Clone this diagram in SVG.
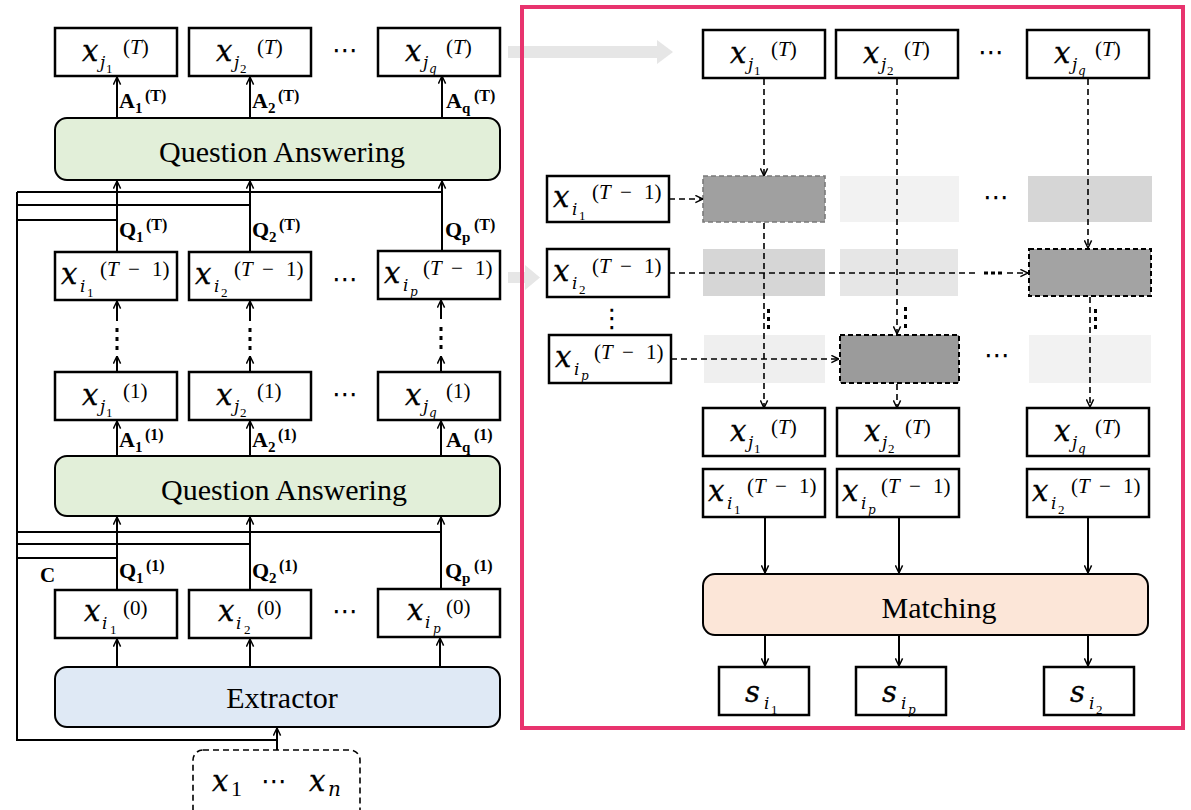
<svg xmlns="http://www.w3.org/2000/svg" width="1191" height="810" viewBox="0 0 1191 810">
  <defs>
    <style>
      .box { fill: #fff; stroke: #000; stroke-width: 2.5; }
      .ln { fill: none; stroke: #000; stroke-width: 2; }
      .dl { fill: none; stroke: #000; stroke-width: 1.6; stroke-dasharray: 6 4; }
      .m { font-family: "Liberation Serif", "DejaVu Serif", serif; fill: #000; }
      .it { font-style: italic; }
      .mx { font-family: "DejaVu Serif", "Liberation Serif", serif; font-style: italic; }
      .mb { stroke: #000; stroke-width: 0.3; }
      .b { font-family: "Liberation Serif", "DejaVu Serif", serif; font-weight: bold; fill: #000; }
      .big { font-family: "Liberation Serif", "DejaVu Serif", serif; font-size: 30px; fill: #000; text-anchor: middle; }
      .dots { font-family: "DejaVu Sans", sans-serif; font-size: 26px; fill: #000; text-anchor: middle; }
      .dot { fill: #000; }
    </style>
    <marker id="arr" viewBox="0 0 10 10" refX="9.5" refY="5" markerWidth="9" markerHeight="9" markerUnits="userSpaceOnUse" orient="auto">
      <path d="M1,1 L9.5,5 L1,9" fill="none" stroke="#000" stroke-width="1.6"/>
    </marker>
  </defs>

  <rect width="1191" height="810" fill="#fff"/>

  <!-- hand-off arrows from the left stack into the matching panel -->
  <g id="handoff" fill="#e6e6e6">
    <path d="M508,46 H657 V40 L673,52 L657,64 V58 H508 Z"/>
    <path d="M508,272 H525 V265 L540,277.5 L525,290 V283 H508 Z"/>
  </g>

  <!-- matching panel frame -->
  <rect id="panel" x="522" y="7" width="661" height="721" fill="none" stroke="#e8336e" stroke-width="4"/>

  <!-- attention grid cells -->
  <g id="grid">
    <rect x="703" y="176" width="122" height="46" fill="#a0a0a0" stroke="#7a7a7a" stroke-width="1.6" stroke-dasharray="5 3"/>
    <rect x="840" y="176" width="119" height="46" fill="#f2f2f2"/>
    <rect x="1028" y="176" width="124" height="46" fill="#d6d6d6"/>
    <rect x="703" y="249" width="122" height="47" fill="#d6d6d6"/>
    <rect x="840" y="249" width="118" height="47" fill="#e6e6e6"/>
    <rect x="1029" y="249" width="122" height="47" fill="#a3a3a3" stroke="#000" stroke-width="2" stroke-dasharray="5 3"/>
    <rect x="704" y="335" width="121" height="48" fill="#efefef"/>
    <rect x="840" y="335" width="119" height="48" fill="#9b9b9b" stroke="#000" stroke-width="2" stroke-dasharray="5 3"/>
    <rect x="1029" y="335" width="122" height="48" fill="#f2f2f2"/>
  </g>

  <!-- connectors -->
  <g id="connectors">
    <!-- context bus feeding the question streams -->
    <path class="ln" d="M17,192 V740 H277"/>
    <path class="ln" d="M17,192 H442 M17,205 H250 M17,220 H117"/>
    <path class="ln" d="M17,532 H441 M17,544 H250 M17,558 H117"/>
    <line class="ln" x1="277" y1="750" x2="277" y2="728" marker-end="url(#arr)"/>

    <!-- answers of round T -->
    <line class="ln" x1="117" y1="118" x2="117" y2="77" marker-end="url(#arr)"/>
    <line class="ln" x1="250" y1="118" x2="250" y2="77" marker-end="url(#arr)"/>
    <line class="ln" x1="442" y1="118" x2="442" y2="76" marker-end="url(#arr)"/>
    <!-- questions of round T -->
    <line class="ln" x1="117" y1="252" x2="117" y2="181" marker-end="url(#arr)"/>
    <line class="ln" x1="250" y1="252" x2="250" y2="181" marker-end="url(#arr)"/>
    <line class="ln" x1="442" y1="251" x2="442" y2="181" marker-end="url(#arr)"/>
    <!-- rounds in between -->
    <g>
      <line class="ln" x1="117" y1="372" x2="117" y2="356" marker-end="url(#arr)"/>
      <line class="ln" x1="117" y1="321" x2="117" y2="301" marker-end="url(#arr)"/>
      <rect class="dot" x="115.5" y="328" width="3" height="4"/>
      <rect class="dot" x="115.5" y="337" width="3" height="4"/>
      <rect class="dot" x="115.5" y="346" width="3" height="4"/>
      <line class="ln" x1="250" y1="372" x2="250" y2="356" marker-end="url(#arr)"/>
      <line class="ln" x1="250" y1="321" x2="250" y2="301" marker-end="url(#arr)"/>
      <rect class="dot" x="248.5" y="328" width="3" height="4"/>
      <rect class="dot" x="248.5" y="337" width="3" height="4"/>
      <rect class="dot" x="248.5" y="346" width="3" height="4"/>
      <line class="ln" x1="441" y1="372" x2="441" y2="356" marker-end="url(#arr)"/>
      <line class="ln" x1="441" y1="319" x2="441" y2="300" marker-end="url(#arr)"/>
      <rect class="dot" x="439.5" y="327" width="3" height="4"/>
      <rect class="dot" x="439.5" y="336" width="3" height="4"/>
      <rect class="dot" x="439.5" y="345" width="3" height="4"/>
    </g>
    <!-- answers of round 1 -->
    <line class="ln" x1="117" y1="456" x2="117" y2="421" marker-end="url(#arr)"/>
    <line class="ln" x1="250" y1="456" x2="250" y2="421" marker-end="url(#arr)"/>
    <line class="ln" x1="441" y1="456" x2="441" y2="421" marker-end="url(#arr)"/>
    <!-- questions of round 1 -->
    <line class="ln" x1="117" y1="590" x2="117" y2="517" marker-end="url(#arr)"/>
    <line class="ln" x1="250" y1="590" x2="250" y2="517" marker-end="url(#arr)"/>
    <line class="ln" x1="441" y1="589" x2="441" y2="517" marker-end="url(#arr)"/>
    <!-- extractor outputs -->
    <line class="ln" x1="117" y1="667" x2="117" y2="639" marker-end="url(#arr)"/>
    <line class="ln" x1="250" y1="667" x2="250" y2="639" marker-end="url(#arr)"/>
    <line class="ln" x1="440" y1="667" x2="440" y2="638" marker-end="url(#arr)"/>

    <!-- panel: answers routed to their matched slots -->
    <line class="dl" x1="764" y1="79" x2="764" y2="176" marker-end="url(#arr)"/>
    <line class="dl" x1="764" y1="223" x2="764" y2="408" marker-end="url(#arr)"/>
    <line class="dl" x1="897" y1="79" x2="897" y2="334" marker-end="url(#arr)"/>
    <line class="dl" x1="897" y1="384" x2="897" y2="408" marker-end="url(#arr)"/>
    <line class="dl" x1="1088" y1="79" x2="1088" y2="248" marker-end="url(#arr)"/>
    <line class="dl" x1="1090" y1="297" x2="1090" y2="407" marker-end="url(#arr)"/>
    <rect class="dot" x="767" y="309" width="3" height="4"/>
    <rect class="dot" x="767" y="317" width="3" height="4"/>
    <rect class="dot" x="767" y="325" width="3" height="4"/>
    <rect class="dot" x="904" y="307" width="3" height="4"/>
    <rect class="dot" x="904" y="315" width="3" height="4"/>
    <rect class="dot" x="904" y="324" width="3" height="4"/>
    <rect class="dot" x="1094" y="309" width="3" height="4"/>
    <rect class="dot" x="1094" y="317" width="3" height="4"/>
    <rect class="dot" x="1094" y="325" width="3" height="4"/>
    <!-- panel: questions routed to their matched slots -->
    <line class="dl" x1="669" y1="199" x2="703" y2="199" marker-end="url(#arr)"/>
    <line class="dl" x1="669" y1="273" x2="976" y2="273"/>
    <rect class="dot" x="984" y="271.5" width="4" height="3"/>
    <rect class="dot" x="991" y="271.5" width="4" height="3"/>
    <rect class="dot" x="998" y="271.5" width="4" height="3"/>
    <line class="dl" x1="1007" y1="273" x2="1028" y2="273" marker-end="url(#arr)"/>
    <line class="dl" x1="671" y1="359" x2="839" y2="359" marker-end="url(#arr)"/>

    <!-- panel: pairs into matching and scores out -->
    <line class="ln" x1="765" y1="517" x2="765" y2="573" marker-end="url(#arr)"/>
    <line class="ln" x1="899" y1="517" x2="899" y2="573" marker-end="url(#arr)"/>
    <line class="ln" x1="1088" y1="517" x2="1088" y2="573" marker-end="url(#arr)"/>
    <line class="ln" x1="765" y1="635" x2="765" y2="666" marker-end="url(#arr)"/>
    <line class="ln" x1="899" y1="635" x2="899" y2="666" marker-end="url(#arr)"/>
    <line class="ln" x1="1088" y1="635" x2="1088" y2="666" marker-end="url(#arr)"/>
  </g>

  <!-- edge labels -->
  <g id="edge-labels">
    <text class="b" x="119" y="108" font-size="22">A<tspan x="135" y="113" font-size="15">1</tspan><tspan x="145" y="101" font-size="16">(T)</tspan></text>
    <text class="b" x="252" y="108" font-size="22">A<tspan x="268" y="113" font-size="15">2</tspan><tspan x="278" y="101" font-size="16">(T)</tspan></text>
    <text class="b" x="446" y="108" font-size="22">A<tspan x="462" y="113" font-size="15">q</tspan><tspan x="474" y="101" font-size="16">(T)</tspan></text>
    <text class="b" x="119" y="237" font-size="22">Q<tspan x="136" y="242" font-size="15">1</tspan><tspan x="146" y="230" font-size="16">(T)</tspan></text>
    <text class="b" x="252" y="237" font-size="22">Q<tspan x="269" y="242" font-size="15">2</tspan><tspan x="279" y="230" font-size="16">(T)</tspan></text>
    <text class="b" x="445" y="237" font-size="22">Q<tspan x="462" y="242" font-size="15">p</tspan><tspan x="474" y="230" font-size="16">(T)</tspan></text>
    <text class="b" x="119" y="447" font-size="22">A<tspan x="135" y="452" font-size="15">1</tspan><tspan x="145" y="440" font-size="16">(1)</tspan></text>
    <text class="b" x="252" y="447" font-size="22">A<tspan x="268" y="452" font-size="15">2</tspan><tspan x="278" y="440" font-size="16">(1)</tspan></text>
    <text class="b" x="446" y="447" font-size="22">A<tspan x="462" y="452" font-size="15">q</tspan><tspan x="474" y="440" font-size="16">(1)</tspan></text>
    <text class="b" x="119" y="578" font-size="22">Q<tspan x="136" y="583" font-size="15">1</tspan><tspan x="146" y="571" font-size="16">(1)</tspan></text>
    <text class="b" x="252" y="578" font-size="22">Q<tspan x="269" y="583" font-size="15">2</tspan><tspan x="279" y="571" font-size="16">(1)</tspan></text>
    <text class="b" x="445" y="578" font-size="22">Q<tspan x="462" y="583" font-size="15">p</tspan><tspan x="474" y="571" font-size="16">(1)</tspan></text>
    <text class="b" x="40" y="582" font-size="21">C</text>
  </g>

  <!-- left stack: round T answers -->
  <g id="xj1-T">
    <rect class="box" x="55" y="28" width="122" height="48"/>
    <text class="m"><tspan class="mx mb" x="82" y="61" font-size="29">x</tspan><tspan class="mx" x="100" y="68" font-size="17">j</tspan><tspan x="106" y="73" font-size="13">1</tspan><tspan x="123" y="54" font-size="21">(<tspan class="it">T</tspan>)</tspan></text>
  </g>
  <g id="xj2-T">
    <rect class="box" x="189" y="28" width="122" height="48"/>
    <text class="m"><tspan class="mx mb" x="216" y="61" font-size="29">x</tspan><tspan class="mx" x="234" y="68" font-size="17">j</tspan><tspan x="240" y="73" font-size="13">2</tspan><tspan x="257" y="54" font-size="21">(<tspan class="it">T</tspan>)</tspan></text>
  </g>
  <g id="xjq-T">
    <rect class="box" x="378" y="28" width="122" height="48"/>
    <text class="m"><tspan class="mx mb" x="405" y="61" font-size="29">x</tspan><tspan class="mx" x="423" y="68" font-size="17">j</tspan><tspan class="mx" x="429" y="73" font-size="12">q</tspan><tspan x="446" y="54" font-size="21">(<tspan class="it">T</tspan>)</tspan></text>
  </g>
  <text class="dots" x="345" y="59">⋯</text>

  <g id="qa-T">
    <rect x="55" y="118" width="445" height="62" rx="12" fill="#e2efd9" stroke="#000" stroke-width="2"/>
    <text class="big" x="282" y="162">Question Answering</text>
  </g>

  <!-- left stack: round T questions -->
  <g id="xi1-T1">
    <rect class="box" x="55" y="252" width="122" height="48"/>
    <text class="m"><tspan class="mx mb" x="61" y="284" font-size="29">x</tspan><tspan class="mx" x="80" y="292" font-size="17">i</tspan><tspan x="87" y="297" font-size="13">1</tspan><tspan x="100" y="276" font-size="21">(<tspan class="it">T</tspan></tspan><tspan x="128" y="276" font-size="21">−</tspan><tspan x="152" y="276" font-size="21">1)</tspan></text>
  </g>
  <g id="xi2-T1">
    <rect class="box" x="189" y="252" width="122" height="48"/>
    <text class="m"><tspan class="mx mb" x="195" y="284" font-size="29">x</tspan><tspan class="mx" x="214" y="292" font-size="17">i</tspan><tspan x="221" y="297" font-size="13">2</tspan><tspan x="234" y="276" font-size="21">(<tspan class="it">T</tspan></tspan><tspan x="262" y="276" font-size="21">−</tspan><tspan x="286" y="276" font-size="21">1)</tspan></text>
  </g>
  <g id="xip-T1">
    <rect class="box" x="378" y="251" width="122" height="48"/>
    <text class="m"><tspan class="mx mb" x="384" y="283" font-size="29">x</tspan><tspan class="mx" x="403" y="291" font-size="17">i</tspan><tspan class="mx" x="410" y="296" font-size="12">p</tspan><tspan x="423" y="275" font-size="21">(<tspan class="it">T</tspan></tspan><tspan x="451" y="275" font-size="21">−</tspan><tspan x="475" y="275" font-size="21">1)</tspan></text>
  </g>
  <text class="dots" x="345" y="288">⋯</text>

  <!-- left stack: round 1 answers -->
  <g id="xj1-1">
    <rect class="box" x="55" y="372" width="122" height="48"/>
    <text class="m"><tspan class="mx mb" x="82" y="405" font-size="29">x</tspan><tspan class="mx" x="100" y="412" font-size="17">j</tspan><tspan x="106" y="417" font-size="13">1</tspan><tspan x="123" y="398" font-size="21">(1)</tspan></text>
  </g>
  <g id="xj2-1">
    <rect class="box" x="189" y="372" width="122" height="48"/>
    <text class="m"><tspan class="mx mb" x="216" y="405" font-size="29">x</tspan><tspan class="mx" x="234" y="412" font-size="17">j</tspan><tspan x="240" y="417" font-size="13">2</tspan><tspan x="257" y="398" font-size="21">(1)</tspan></text>
  </g>
  <g id="xjq-1">
    <rect class="box" x="378" y="372" width="122" height="48"/>
    <text class="m"><tspan class="mx mb" x="405" y="405" font-size="29">x</tspan><tspan class="mx" x="423" y="412" font-size="17">j</tspan><tspan class="mx" x="429" y="417" font-size="12">q</tspan><tspan x="446" y="398" font-size="21">(1)</tspan></text>
  </g>
  <text class="dots" x="345" y="403">⋯</text>

  <g id="qa-1">
    <rect x="55" y="456" width="445" height="60" rx="12" fill="#e2efd9" stroke="#000" stroke-width="2"/>
    <text class="big" x="284" y="500">Question Answering</text>
  </g>

  <!-- left stack: extracted seeds -->
  <g id="xi1-0">
    <rect class="box" x="55" y="590" width="122" height="48"/>
    <text class="m"><tspan class="mx mb" x="84" y="621" font-size="29">x</tspan><tspan class="mx" x="102" y="629" font-size="17">i</tspan><tspan x="110" y="634" font-size="13">1</tspan><tspan x="123" y="615" font-size="21">(0)</tspan></text>
  </g>
  <g id="xi2-0">
    <rect class="box" x="189" y="590" width="122" height="48"/>
    <text class="m"><tspan class="mx mb" x="218" y="621" font-size="29">x</tspan><tspan class="mx" x="236" y="629" font-size="17">i</tspan><tspan x="244" y="634" font-size="13">2</tspan><tspan x="257" y="615" font-size="21">(0)</tspan></text>
  </g>
  <g id="xip-0">
    <rect class="box" x="378" y="589" width="122" height="48"/>
    <text class="m"><tspan class="mx mb" x="407" y="620" font-size="29">x</tspan><tspan class="mx" x="425" y="628" font-size="17">i</tspan><tspan class="mx" x="433" y="633" font-size="12">p</tspan><tspan x="446" y="614" font-size="21">(0)</tspan></text>
  </g>
  <text class="dots" x="345" y="620">⋯</text>

  <g id="extractor">
    <rect x="55" y="667" width="445" height="60" rx="12" fill="#dfe9f5" stroke="#000" stroke-width="2"/>
    <text class="big" x="282" y="708">Extractor</text>
  </g>

  <g id="inputs">
    <rect x="193" y="750" width="167" height="70" rx="10" fill="#fff" stroke="#000" stroke-width="1.6" stroke-dasharray="6 4"/>
    <text class="m"><tspan class="mx mb" x="212" y="791" font-size="29">x</tspan><tspan x="231" y="796" font-size="22">1</tspan><tspan class="mx mb" x="309" y="791" font-size="29">x</tspan><tspan class="mx" x="328" y="796" font-size="20">n</tspan></text>
    <text class="dots" x="274" y="790">⋯</text>
  </g>

  <!-- panel: answer slots on top -->
  <g id="p-xj1-T">
    <rect class="box" x="703" y="30" width="122" height="48"/>
    <text class="m"><tspan class="mx mb" x="730" y="63" font-size="29">x</tspan><tspan class="mx" x="748" y="70" font-size="17">j</tspan><tspan x="754" y="75" font-size="13">1</tspan><tspan x="771" y="56" font-size="21">(<tspan class="it">T</tspan>)</tspan></text>
  </g>
  <g id="p-xj2-T">
    <rect class="box" x="836" y="30" width="122" height="48"/>
    <text class="m"><tspan class="mx mb" x="863" y="63" font-size="29">x</tspan><tspan class="mx" x="881" y="70" font-size="17">j</tspan><tspan x="887" y="75" font-size="13">2</tspan><tspan x="904" y="56" font-size="21">(<tspan class="it">T</tspan>)</tspan></text>
  </g>
  <g id="p-xjq-T">
    <rect class="box" x="1027" y="30" width="122" height="48"/>
    <text class="m"><tspan class="mx mb" x="1054" y="63" font-size="29">x</tspan><tspan class="mx" x="1072" y="70" font-size="17">j</tspan><tspan class="mx" x="1078" y="75" font-size="12">q</tspan><tspan x="1095" y="56" font-size="21">(<tspan class="it">T</tspan>)</tspan></text>
  </g>
  <text class="dots" x="991" y="61">⋯</text>

  <!-- panel: question column -->
  <g id="p-xi1-T1">
    <rect class="box" x="547" y="176" width="122" height="46"/>
    <text class="m"><tspan class="mx mb" x="553" y="207" font-size="29">x</tspan><tspan class="mx" x="572" y="215" font-size="17">i</tspan><tspan x="579" y="220" font-size="13">1</tspan><tspan x="592" y="199" font-size="21">(<tspan class="it">T</tspan></tspan><tspan x="620" y="199" font-size="21">−</tspan><tspan x="644" y="199" font-size="21">1)</tspan></text>
  </g>
  <g id="p-xi2-T1">
    <rect class="box" x="547" y="249" width="122" height="48"/>
    <text class="m"><tspan class="mx mb" x="553" y="281" font-size="29">x</tspan><tspan class="mx" x="572" y="289" font-size="17">i</tspan><tspan x="579" y="294" font-size="13">2</tspan><tspan x="592" y="273" font-size="21">(<tspan class="it">T</tspan></tspan><tspan x="620" y="273" font-size="21">−</tspan><tspan x="644" y="273" font-size="21">1)</tspan></text>
  </g>
  <text class="dots" x="612" y="327">⋮</text>
  <g id="p-xip-T1">
    <rect class="box" x="549" y="335" width="122" height="48"/>
    <text class="m"><tspan class="mx mb" x="555" y="367" font-size="29">x</tspan><tspan class="mx" x="574" y="375" font-size="17">i</tspan><tspan class="mx" x="581" y="380" font-size="12">p</tspan><tspan x="594" y="359" font-size="21">(<tspan class="it">T</tspan></tspan><tspan x="622" y="359" font-size="21">−</tspan><tspan x="646" y="359" font-size="21">1)</tspan></text>
  </g>
  <text class="dots" x="996" y="206">⋯</text>
  <text class="dots" x="997" y="364">⋯</text>

  <!-- panel: matched pairs -->
  <g id="p-pair1">
    <rect class="box" x="703" y="408" width="122" height="48"/>
    <text class="m"><tspan class="mx mb" x="730" y="441" font-size="29">x</tspan><tspan class="mx" x="748" y="448" font-size="17">j</tspan><tspan x="754" y="453" font-size="13">1</tspan><tspan x="771" y="434" font-size="21">(<tspan class="it">T</tspan>)</tspan></text>
    <rect class="box" x="703" y="469" width="122" height="48"/>
    <text class="m"><tspan class="mx mb" x="708" y="501" font-size="29">x</tspan><tspan class="mx" x="727" y="509" font-size="17">i</tspan><tspan x="734" y="514" font-size="13">1</tspan><tspan x="747" y="493" font-size="21">(<tspan class="it">T</tspan></tspan><tspan x="775" y="493" font-size="21">−</tspan><tspan x="799" y="493" font-size="21">1)</tspan></text>
  </g>
  <g id="p-pair2">
    <rect class="box" x="837" y="408" width="122" height="48"/>
    <text class="m"><tspan class="mx mb" x="864" y="441" font-size="29">x</tspan><tspan class="mx" x="882" y="448" font-size="17">j</tspan><tspan x="888" y="453" font-size="13">2</tspan><tspan x="905" y="434" font-size="21">(<tspan class="it">T</tspan>)</tspan></text>
    <rect class="box" x="837" y="469" width="122" height="48"/>
    <text class="m"><tspan class="mx mb" x="842" y="501" font-size="29">x</tspan><tspan class="mx" x="861" y="509" font-size="17">i</tspan><tspan class="mx" x="868" y="514" font-size="12">p</tspan><tspan x="881" y="493" font-size="21">(<tspan class="it">T</tspan></tspan><tspan x="909" y="493" font-size="21">−</tspan><tspan x="933" y="493" font-size="21">1)</tspan></text>
  </g>
  <g id="p-pair3">
    <rect class="box" x="1027" y="408" width="122" height="48"/>
    <text class="m"><tspan class="mx mb" x="1054" y="441" font-size="29">x</tspan><tspan class="mx" x="1072" y="448" font-size="17">j</tspan><tspan class="mx" x="1078" y="453" font-size="12">q</tspan><tspan x="1095" y="434" font-size="21">(<tspan class="it">T</tspan>)</tspan></text>
    <rect class="box" x="1027" y="469" width="122" height="48"/>
    <text class="m"><tspan class="mx mb" x="1032" y="501" font-size="29">x</tspan><tspan class="mx" x="1051" y="509" font-size="17">i</tspan><tspan x="1058" y="514" font-size="13">2</tspan><tspan x="1071" y="493" font-size="21">(<tspan class="it">T</tspan></tspan><tspan x="1099" y="493" font-size="21">−</tspan><tspan x="1123" y="493" font-size="21">1)</tspan></text>
  </g>

  <g id="matching">
    <rect x="703" y="574" width="445" height="61" rx="12" fill="#fce6d8" stroke="#000" stroke-width="2"/>
    <text class="big" x="939" y="618">Matching</text>
  </g>

  <!-- panel: scores -->
  <g id="s-i1">
    <rect class="box" x="719" y="667" width="90" height="48"/>
    <text class="m"><tspan class="mx mb" x="745" y="702" font-size="29">s</tspan><tspan class="mx" x="764" y="709" font-size="17">i</tspan><tspan x="771" y="714" font-size="13">1</tspan></text>
  </g>
  <g id="s-ip">
    <rect class="box" x="856" y="667" width="90" height="48"/>
    <text class="m"><tspan class="mx mb" x="882" y="702" font-size="29">s</tspan><tspan class="mx" x="901" y="709" font-size="17">i</tspan><tspan class="mx" x="908" y="714" font-size="12">p</tspan></text>
  </g>
  <g id="s-i2">
    <rect class="box" x="1044" y="667" width="90" height="48"/>
    <text class="m"><tspan class="mx mb" x="1070" y="702" font-size="29">s</tspan><tspan class="mx" x="1089" y="709" font-size="17">i</tspan><tspan x="1096" y="714" font-size="13">2</tspan></text>
  </g>
</svg>
